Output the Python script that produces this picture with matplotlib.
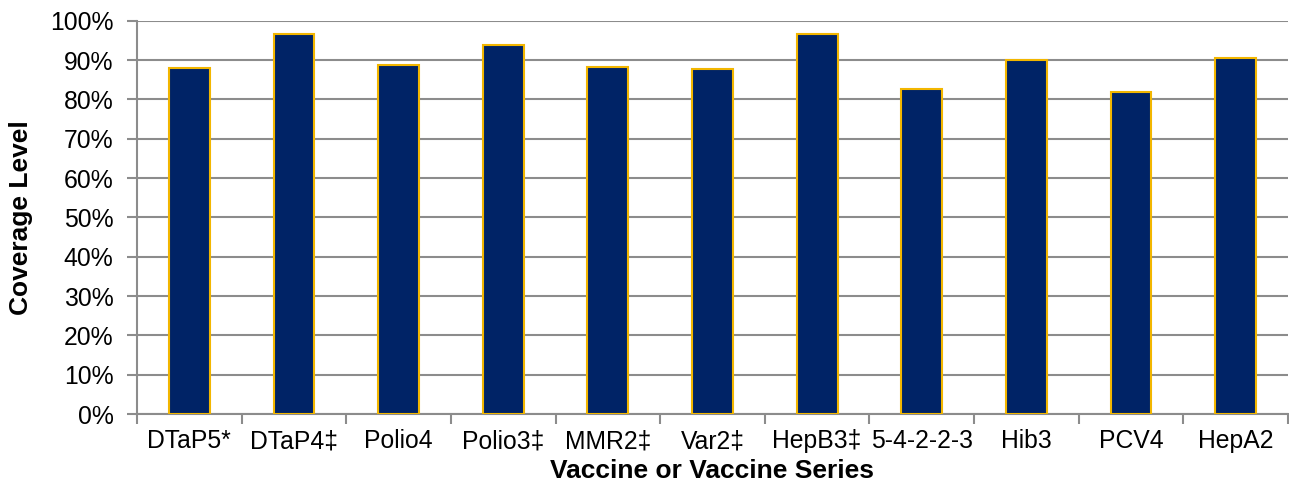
import numpy as np
import matplotlib
matplotlib.use('Agg')
import matplotlib.pyplot as plt
from matplotlib.ticker import FixedLocator, PercentFormatter

plt.rcParams['font.family'] = ['Liberation Sans', 'DejaVu Sans']

# vaccine series and their coverage (fraction of children)
vaccines = ['DTaP5*', 'DTaP4\u2021', 'Polio4', 'Polio3\u2021', 'MMR2\u2021',
            'Var2\u2021', 'HepB3\u2021', '5-4-2-2-3', 'Hib3', 'PCV4', 'HepA2']
coverage = [0.881, 0.967, 0.887, 0.938, 0.883, 0.876, 0.966, 0.826,
            0.900, 0.818, 0.905]
y_ticks = [0.0, 0.1, 0.2, 0.3, 0.4, 0.5, 0.6, 0.7, 0.8, 0.9, 1.0]

navy = '#002366'
gold = '#F2B600'
grid_grey = '#8c8c8c'

fig = plt.figure(figsize=(12.89, 4.93), dpi=100)
ax = fig.add_axes([0.1063, 0.160, 0.8929, 0.798])

x = np.arange(len(vaccines))
ax.bar(x, coverage, width=0.39, color=navy, edgecolor=gold, linewidth=1.5,
       zorder=3)

ax.set_xlim(-0.5, len(vaccines) - 0.5)
ax.set_ylim(0, 1.0)
ax.yaxis.set_major_locator(FixedLocator(y_ticks))
ax.yaxis.set_major_formatter(PercentFormatter(1.0, decimals=0))
ax.grid(axis='y', color=grid_grey, linewidth=1.5, zorder=0)
ax.set_axisbelow(True)

# category boundaries get the tick marks, centres get the labels
ax.xaxis.set_major_locator(FixedLocator(np.arange(len(vaccines) + 1) - 0.5))
ax.xaxis.set_major_formatter(plt.NullFormatter())
ax.xaxis.set_minor_locator(FixedLocator(x))
ax.set_xticklabels(vaccines, minor=True)
ax.tick_params(axis='x', which='major', length=7, width=1.5, color=grid_grey)
ax.tick_params(axis='x', which='minor', length=0, pad=11, labelsize=17.8)
ax.tick_params(axis='y', length=7, width=1.5, color=grid_grey, labelsize=17.8,
               pad=10)

for side in ('top', 'right'):
    ax.spines[side].set_visible(False)
for side in ('left', 'bottom'):
    ax.spines[side].set_color(grid_grey)
    ax.spines[side].set_linewidth(1.5)

ax.set_xlabel('Vaccine or Vaccine Series', fontsize=19, fontweight='bold',
              labelpad=4)
ax.set_ylabel('Coverage Level', fontsize=19, fontweight='bold', labelpad=12)

fig.savefig('out.png', dpi=100)
